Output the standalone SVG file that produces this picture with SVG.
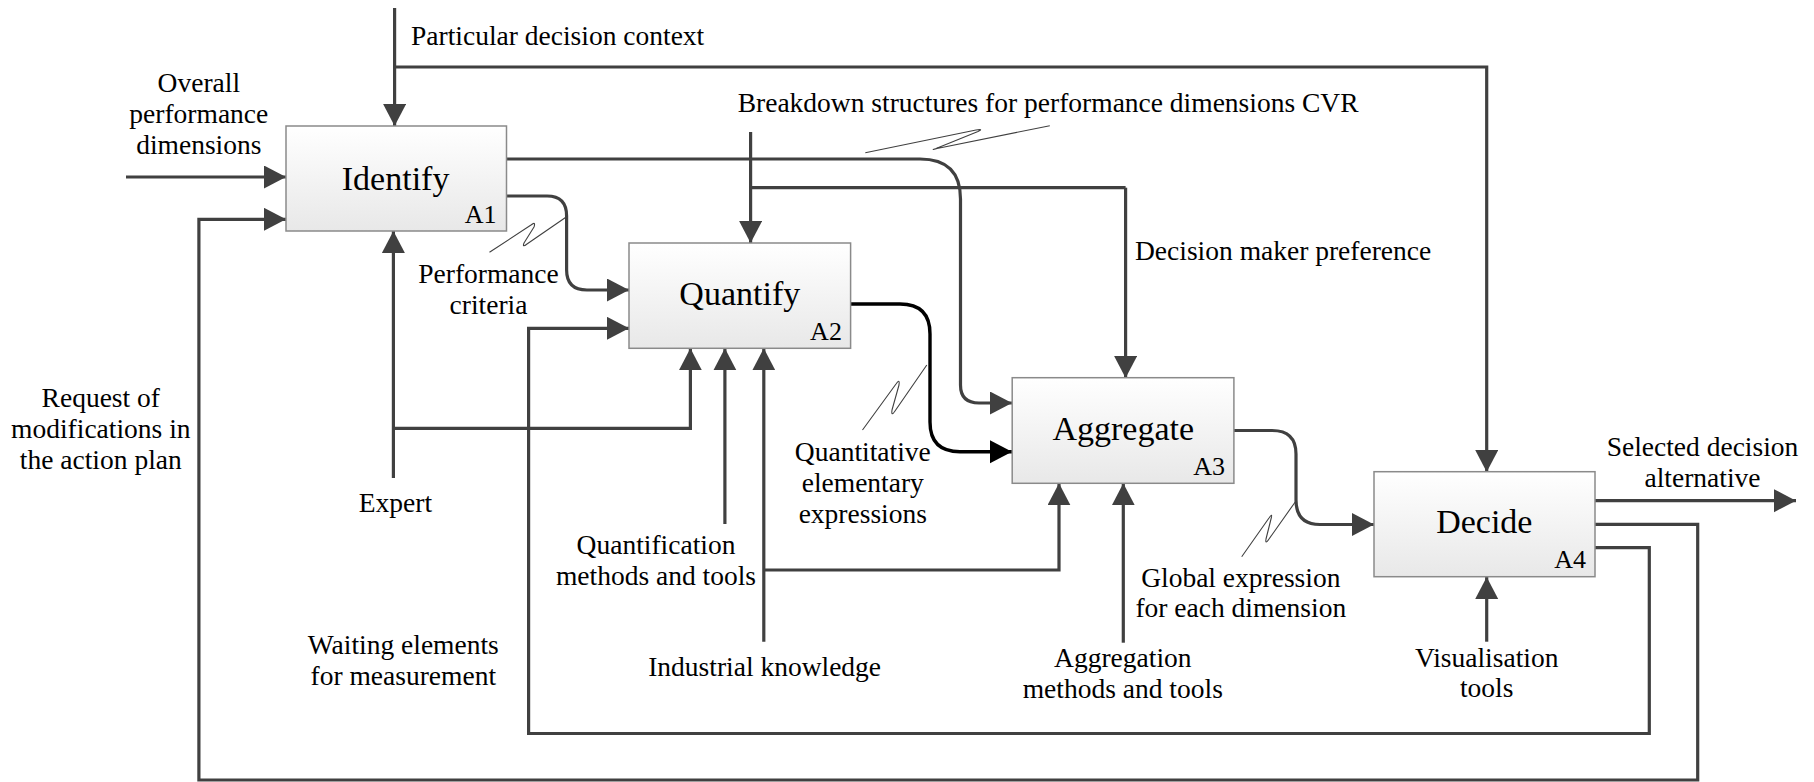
<svg xmlns="http://www.w3.org/2000/svg" width="1814" height="782" viewBox="0 0 1814 782">
<defs>
<linearGradient id="boxfill" x1="0" y1="0" x2="0" y2="1">
<stop offset="0" stop-color="#ffffff"/>
<stop offset="1" stop-color="#e8e8e8"/>
</linearGradient>
<marker id="arr" markerUnits="userSpaceOnUse" markerWidth="24" markerHeight="24" refX="22" refY="11.5" orient="auto">
<path d="M0,0 L22,11.5 L0,23 z" fill="#404040"/>
</marker>
<marker id="arrb" markerUnits="userSpaceOnUse" markerWidth="24" markerHeight="24" refX="22" refY="11.5" orient="auto">
<path d="M0,0 L22,11.5 L0,23 z" fill="#000000"/>
</marker>
<style>
text{font-family:'Liberation Serif','DejaVu Serif',serif}
.box{fill:url(#boxfill);stroke:#8a8a8a;stroke-width:1.5}
.title{font-size:34px;fill:#000;text-anchor:middle}
.aid{font-size:26px;fill:#000;text-anchor:end}
.lbl{font-size:27.5px;fill:#000}
.c{text-anchor:middle}
.ln{fill:none;stroke:#404040;stroke-width:3.2}
.lnb{fill:none;stroke:#000;stroke-width:3.4}
.arr{marker-end:url(#arr)}
.sq{fill:none;stroke:#404040;stroke-width:1.1;stroke-linejoin:round}
</style>
</defs>
<rect width="1814" height="782" fill="#ffffff"/>

<g id="connectors">
<path class="ln arr" d="M394.6,8 V126"/>
<path class="ln arr" d="M394.6,67 H1486.7 V472"/>
<path class="ln arr" d="M126,177 H286"/>
<path class="ln arr" d="M506.5,159 H920 Q960.5,159 960.5,199 V385 Q960.5,403 979,403 H1012"/>
<path class="ln arr" d="M506.5,196 H547 Q566.6,196 566.6,216 V270 Q566.6,290 587,290 H629"/>
<path class="ln arr" d="M750.6,132 V243"/>
<path class="ln" d="M750.6,187.7 H1125.6"/>
<path class="ln arr" d="M1125.6,187.7 V378"/>
<path class="ln arr" d="M393.4,478 V231"/>
<path class="ln arr" d="M393.4,428.3 H690.4 V348.3"/>
<path class="ln arr" d="M724.9,524 V348.3"/>
<path class="ln arr" d="M763.8,641.7 V348.3"/>
<path class="ln arr" d="M763.8,570 H1059 V483.3"/>
<path class="lnb" marker-end="url(#arrb)" d="M850.6,304 H900 Q930,304 930,334 V422 Q930,451.7 960,451.7 H1012"/>
<path class="ln arr" d="M1123.3,642.7 V483.3"/>
<path class="ln arr" d="M1234,430.5 H1272 Q1296,430.5 1296,454 V500 Q1296,524.5 1320,524.5 H1374"/>
<path class="ln arr" d="M1486.7,641.7 V577"/>
<path class="ln arr" d="M1595,500.7 H1796"/>
<path class="ln arr" d="M1595,524.3 H1697.7 V780 H198.9 V219.3 H286"/>
<path class="ln arr" d="M1595,547.7 H1649.3 V733.5 H528.6 V328.3 H629"/>
<path class="sq" d="M865.3,152.7 L976,130 Q984,128.5 978,131.5 L936,148.5 Q930,150.5 937,148.5 L1049.8,125.7"/>
<path class="sq" d="M489.5,252.3 L531,225 Q536,221 534,227 L524,243 Q522,248 527,244 L566.6,216.7"/>
<path class="sq" d="M862.5,430 L896,384 Q900,378 899,385 L892,410 Q891,417 895,411 L926.8,365"/>
<path class="sq" d="M1241.7,556.7 L1269,518 Q1273,512 1271,519 L1266,539 Q1265,545 1269,539 L1295.4,501.7"/>
</g>

<g id="identify" font-family="Liberation Serif, DejaVu Serif, serif">
<rect class="box" x="286" y="126" width="220.5" height="105"/>
<text class="title" x="395.6" y="190">Identify</text>
<text class="aid" x="496.6" y="222.7">A1</text>
</g>
<g id="quantify" font-family="Liberation Serif, DejaVu Serif, serif">
<rect class="box" x="629" y="243" width="221.6" height="105.3"/>
<text class="title" x="739.8" y="305">Quantify</text>
<text class="aid" x="841.9" y="340">A2</text>
</g>
<g id="aggregate" font-family="Liberation Serif, DejaVu Serif, serif">
<rect class="box" x="1012.2" y="377.7" width="221.7" height="105.6"/>
<text class="title" x="1123.3" y="440">Aggregate</text>
<text class="aid" x="1225" y="475">A3</text>
</g>
<g id="decide" font-family="Liberation Serif, DejaVu Serif, serif">
<rect class="box" x="1374" y="471.7" width="221" height="105"/>
<text class="title" x="1484.3" y="533.3">Decide</text>
<text class="aid" x="1586" y="568.3">A4</text>
</g>

<g id="labels" font-family="Liberation Serif, DejaVu Serif, serif">
<text class="lbl" x="411" y="45">Particular decision context</text>
<text class="lbl c" x="198.8" y="92">Overall</text>
<text class="lbl c" x="198.8" y="123">performance</text>
<text class="lbl c" x="198.8" y="154">dimensions</text>
<text class="lbl" x="737.7" y="111.7">Breakdown structures for performance dimensions CVR</text>
<text class="lbl" x="1135" y="260">Decision maker preference</text>
<text class="lbl c" x="488.5" y="283">Performance</text>
<text class="lbl c" x="488.5" y="314">criteria</text>
<text class="lbl c" x="100.8" y="406.5">Request of</text>
<text class="lbl c" x="100.8" y="438">modifications in</text>
<text class="lbl c" x="100.8" y="469">the action plan</text>
<text class="lbl c" x="395.4" y="512">Expert</text>
<text class="lbl c" x="403.3" y="654">Waiting elements</text>
<text class="lbl c" x="403.3" y="685">for measurement</text>
<text class="lbl c" x="656" y="554">Quantification</text>
<text class="lbl c" x="656" y="585">methods and tools</text>
<text class="lbl c" x="764.6" y="676">Industrial knowledge</text>
<text class="lbl c" x="862.8" y="461">Quantitative</text>
<text class="lbl c" x="862.8" y="492">elementary</text>
<text class="lbl c" x="862.8" y="523">expressions</text>
<text class="lbl c" x="1122.8" y="667">Aggregation</text>
<text class="lbl c" x="1122.8" y="697.5">methods and tools</text>
<text class="lbl c" x="1240.8" y="586.7">Global expression</text>
<text class="lbl c" x="1240.8" y="616.7">for each dimension</text>
<text class="lbl c" x="1702.5" y="456">Selected decision</text>
<text class="lbl c" x="1702.5" y="486.7">alternative</text>
<text class="lbl c" x="1486.7" y="666.7">Visualisation</text>
<text class="lbl c" x="1486.7" y="696.7">tools</text>
</g>
</svg>
